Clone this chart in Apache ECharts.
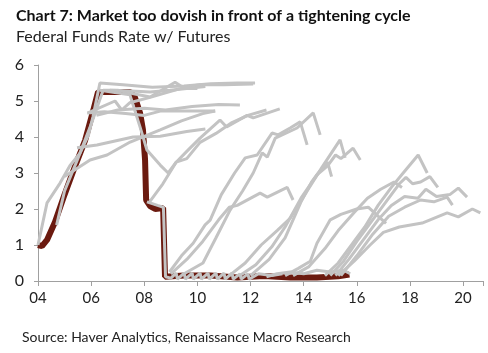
<!DOCTYPE html>
<html>
<head>
<meta charset="utf-8">
<script src="https://cdn.jsdelivr.net/npm/echarts@6/dist/echarts.min.js"></script>
<style>
html,body{margin:0;padding:0;background:#fff;}
#chart{width:488px;height:353px;}
</style>
</head>
<body>
<div id="chart"></div>
<script>
// x ticks (years) and y ticks
const xTicks = [2004, 2006, 2008, 2010, 2012, 2014, 2016, 2018, 2020];
const yTicks = [0, 1, 2, 3, 4, 5, 6];

// effective fed funds rate, [year, %]
const fedFunds = [[2004.0,1.0],[2004.15,0.97],[2004.34,1.14],[2004.64,1.64],[2005.0,2.4],[2005.4,3.2],[2005.77,3.9],[2006.03,4.6],[2006.26,5.25],
  [2007.47,5.25],[2007.65,5.1],[2007.84,4.67],[2007.95,4.2],[2008.03,3.36],[2008.07,2.25],[2008.22,2.08],[2008.41,2.0],[2008.71,2.03],
  [2008.78,0.12],[2009.5,0.15],[2010.5,0.15],[2011.5,0.1],[2012.5,0.14],[2013.5,0.1],[2014.5,0.1],[2015.3,0.13],[2015.72,0.18]];

// fed funds futures paths, [year, %]
const fut01 = [[2004.0,1.0],[2004.34,2.17],[2004.83,2.72],[2005.2,3.2],[2005.58,3.55],[2005.9,4.05],[2006.07,4.57],[2006.33,5.5],[2007.2,5.45],[2008.3,5.38],[2009.5,5.42],[2010.5,5.48],[2011.5,5.5],[2012.17,5.5]];
const fut02 = [[2004.7,1.55],[2005.0,2.5],[2005.5,3.4],[2006.0,4.35],[2006.45,5.3],[2007.0,5.3],[2007.6,5.2],[2008.22,5.11],[2009.16,5.52],[2009.45,5.38],[2010.1,5.45],[2011.0,5.45],[2012.1,5.47]];
const fut03 = [[2006.7,5.3],[2007.5,5.28],[2008.22,5.25],[2008.97,5.3],[2009.6,5.35],[2010.3,5.4]];
const fut04 = [[2005.88,4.67],[2006.9,5.0],[2007.15,4.75],[2007.45,4.95],[2008.22,5.1],[2008.9,5.25],[2009.4,5.35],[2010.0,5.35]];
const fut05 = [[2005.85,4.67],[2006.5,4.7],[2007.3,4.65],[2008.0,4.6],[2008.6,4.72],[2009.5,4.72],[2010.67,4.72]];
const fut06 = [[2006.2,4.6],[2007.0,4.75],[2008.0,4.8],[2008.8,4.75],[2009.8,4.85],[2010.8,4.9],[2011.6,4.89]];
const fut07 = [[2005.47,3.7],[2006.22,3.78],[2007.58,4.0],[2008.6,4.02],[2009.6,4.15],[2010.3,4.22]];
const fut08 = [[2005.0,2.9],[2005.96,3.36],[2006.6,3.5],[2007.47,3.86],[2008.6,4.2],[2009.4,4.45],[2010.2,4.65],[2010.67,4.72]];
const fut09 = [[2006.33,5.3],[2007.46,5.17],[2007.84,4.28],[2008.1,3.64],[2008.6,3.22],[2008.9,3.0],[2009.2,3.3],[2009.6,3.6],[2010.1,3.97],[2010.85,4.47],[2011.1,4.28],[2011.87,4.6],[2012.1,4.53],[2013.1,4.78]];
const fut10 = [[2008.2,2.2],[2008.7,2.7],[2009.2,3.3],[2009.6,3.4],[2010.1,3.85],[2010.7,4.1],[2011.3,4.4],[2011.9,4.6],[2012.6,4.75]];
const fut11 = [[2008.95,0.25],[2009.4,0.7],[2009.84,1.05],[2010.29,1.56],[2010.48,1.69],[2010.9,2.4],[2011.4,3.0],[2011.8,3.42],[2012.25,3.5],[2012.81,4.11],[2013.04,4.06],[2013.49,4.25],[2013.87,4.42],[2014.13,3.78]];
const fut12 = [[2009.5,0.2],[2010.21,0.5],[2010.7,1.2],[2011.23,1.97],[2011.7,2.5],[2012.1,3.0],[2012.44,3.56],[2012.63,3.44],[2012.93,3.97],[2013.75,4.25],[2014.36,4.67],[2014.62,4.06]];
const fut13 = [[2009.0,0.2],[2009.6,0.6],[2010.2,1.1],[2010.8,1.7],[2011.2,2.05],[2011.5,2.1],[2012.36,2.44],[2012.63,2.33],[2013.38,2.6],[2013.6,2.25]];
const fut14 = [[2011.2,0.15],[2011.8,0.5],[2012.4,1.0],[2013.0,1.4],[2013.5,1.75],[2014.13,2.5],[2014.7,3.17],[2015.37,3.92],[2015.56,3.42]];
const fut15 = [[2011.6,0.15],[2012.2,0.45],[2012.8,0.95],[2013.3,1.5],[2013.9,2.3],[2014.5,2.95],[2014.9,3.2],[2015.2,3.5],[2015.4,3.4],[2015.86,3.69],[2016.13,3.36]];
const fut16 = [[2012.0,0.15],[2012.7,0.6],[2013.3,1.2],[2013.9,2.2],[2014.3,2.75],[2014.55,3.0],[2014.9,3.3],[2015.05,2.9]];
const fut17 = [[2013.3,0.15],[2013.8,0.35],[2014.25,0.55],[2014.5,1.05],[2015.0,1.7],[2015.4,1.85],[2016.0,2.0],[2016.43,2.05],[2017.1,1.6]];
const fut18 = [[2014.8,0.15],[2015.3,0.5],[2015.8,1.0],[2016.3,1.5],[2016.8,2.1],[2017.3,2.6],[2017.8,3.05],[2018.31,3.5],[2018.65,3.0]];
const fut19 = [[2015.0,0.15],[2015.5,0.55],[2016.0,1.1],[2016.5,1.6],[2017.0,2.1],[2017.6,2.7],[2017.85,2.88],[2018.1,2.7],[2018.4,2.75],[2018.75,2.9],[2019.05,2.6]];
const fut20 = [[2015.2,0.15],[2015.7,0.6],[2016.3,1.2],[2016.8,1.7],[2017.3,2.1],[2017.8,2.35],[2018.3,2.3],[2018.6,2.55],[2019.0,2.35],[2019.5,2.4],[2019.82,2.58],[2020.15,2.33]];
const fut21 = [[2015.3,0.15],[2015.9,0.55],[2016.5,1.0],[2017.0,1.35],[2017.6,1.5],[2018.46,1.61],[2019.4,1.89],[2019.82,1.78],[2020.35,2.0],[2020.65,1.89]];
const fut22 = [[2015.4,0.15],[2016.0,0.7],[2016.6,1.3],[2017.2,1.8],[2017.8,2.05],[2018.4,2.25],[2018.9,2.2],[2019.4,2.33],[2019.6,2.11]];
const fut23 = [[2013.6,0.15],[2014.2,0.4],[2014.8,0.9],[2015.3,1.4],[2015.9,1.9],[2016.4,2.3],[2016.9,2.55],[2017.4,2.75],[2017.7,2.6]];
// near-zero paths lying on the fed funds line
const fut24 = [[2008.1,2.2],[2008.5,2.1],[2008.72,2.05],[2008.8,0.12],[2009.0,0.08],[2009.2,0.22],[2009.25,0.05],[2009.5,0.22],[2009.55,0.05],[2009.8,0.22],
  [2009.85,0.05],[2010.1,0.22],[2010.15,0.05],[2010.4,0.22],[2010.45,0.05],[2010.7,0.22],[2010.75,0.05],[2011.0,0.22],[2011.05,0.05],[2011.3,0.22],
  [2011.35,0.05],[2011.6,0.2],[2011.65,0.05],[2011.9,0.2],[2011.95,0.05],[2012.3,0.2],[2012.8,0.15],[2013.2,0.2]];
const fut25 = [[2012.6,0.12],[2013.0,0.2],[2013.5,0.25],[2014.0,0.2],[2014.5,0.3],[2015.0,0.25],[2015.5,0.3],[2015.75,0.2]];

const futures = [fut01,fut02,fut03,fut04,fut05,fut06,fut07,fut08,fut09,fut10,fut11,fut12,fut13,
  fut14,fut15,fut16,fut17,fut18,fut19,fut20,fut21,fut22,fut23,fut24,fut25];

const chart = echarts.init(document.getElementById('chart'));

let series = [{
  name: 'Fed Funds',
  type: 'line',
  data: fedFunds,
  showSymbol: false,
  lineStyle: {color: '#6b1a0f', width: 6},
  z: 2
}];
futures.map((f, i) => {
  series.push({
    name: 'fut' + i,
    type: 'line',
    data: f,
    showSymbol: false,
    lineStyle: {color: '#c3c3c3', width: 3},
    z: 3
  });
});

chart.setOption({
  animation: false,
  title: {
    text: 'Chart 7: Market too dovish in front of a tightening cycle',
    subtext: 'Federal Funds Rate w/ Futures',
    left: 11,
    top: 3,
    itemGap: 5,
    textStyle: {fontFamily: 'Lato', fontWeight: 'bold', fontSize: 16, color: '#111'},
    subtextStyle: {fontFamily: 'Lato', fontSize: 16, color: '#222'}
  },
  grid: {left: 38, right: 5, top: 65, bottom: 72},
  xAxis: {
    type: 'value',
    min: 2004,
    max: 2020.75,
    interval: 2,
    splitLine: {show: false},
    axisLine: {lineStyle: {color: '#a0a0a0', width: 1}},
    axisTick: {show: true, length: 5, lineStyle: {color: '#a0a0a0'}},
    axisLabel: {
      margin: 10,
      fontFamily: 'Lato', fontSize: 15, color: '#222',
      formatter: v => xTicks.indexOf(v) >= 0 ? String(v).slice(2) : ''
    }
  },
  yAxis: {
    type: 'value',
    min: 0,
    max: 6,
    interval: 1,
    splitLine: {show: false},
    axisLine: {show: true, lineStyle: {color: '#a0a0a0', width: 1}},
    axisTick: {show: true, length: 4, lineStyle: {color: '#a0a0a0'}},
    axisLabel: {
      margin: 14,
      fontFamily: 'Lato', fontSize: 16, color: '#222',
      formatter: v => yTicks.indexOf(v) >= 0 ? String(v) : ''
    }
  },
  graphic: [{
    type: 'text',
    left: 22,
    top: 330,
    style: {text: 'Source: Haver Analytics, Renaissance Macro Research', font: '14px Lato', fill: '#222'}
  }],
  series: series
});
</script>
</body>
</html>
